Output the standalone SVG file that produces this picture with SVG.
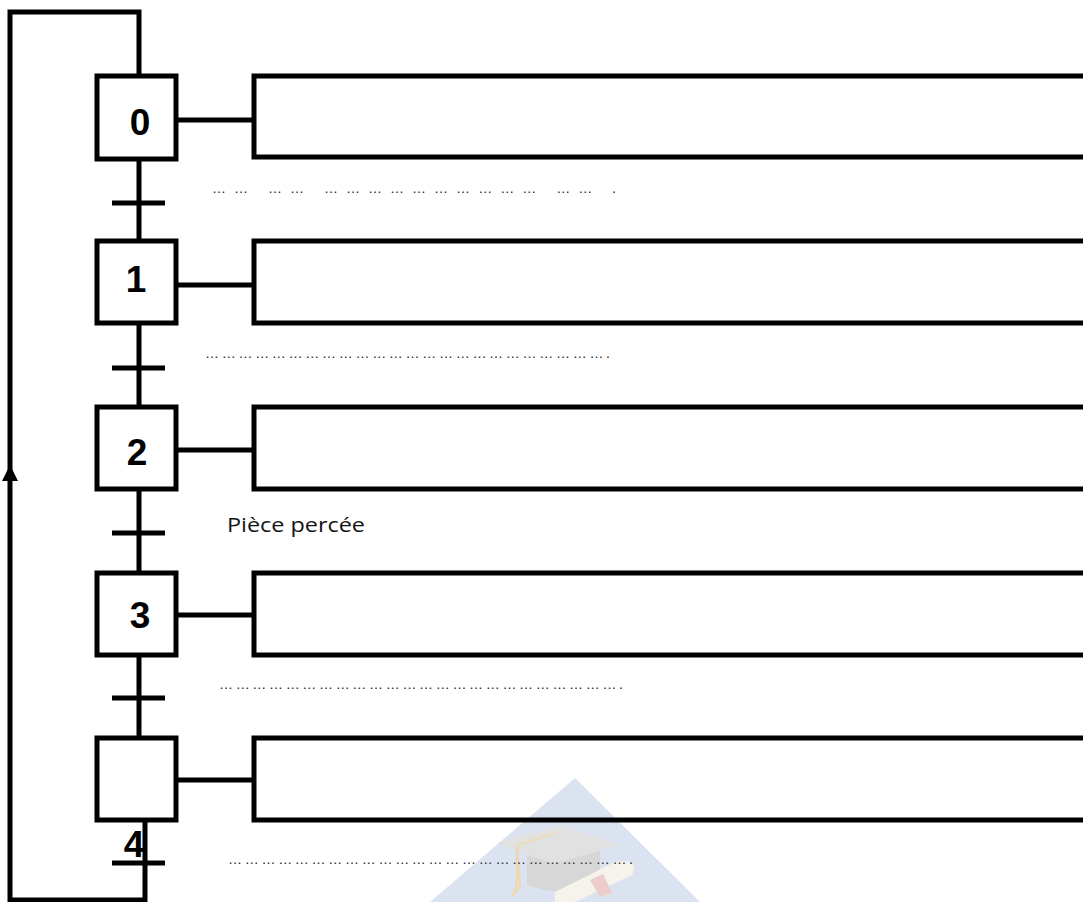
<svg xmlns="http://www.w3.org/2000/svg" width="1083" height="902" viewBox="0 0 1083 902">
<style>
.ln{stroke:#000;stroke-width:5;fill:none}
.box{stroke:#000;stroke-width:5;fill:#fff}
.act{stroke:#000;stroke-width:5;fill:none}
.num{font-family:"Liberation Sans",Arial,sans-serif;font-weight:bold;font-size:37px;fill:#000;text-anchor:middle}
.dots{font-family:"Liberation Sans",Arial,sans-serif;font-size:14px;fill:#222}
.lbl{font-family:"Open Sans","Liberation Sans",sans-serif;font-size:20px;fill:#111}
</style>
<rect width="1083" height="902" fill="#fff"/>
<g id="watermark" opacity="0.5">
<polygon points="575,778 430,902 700,902" fill="#b9c9e4"/>
<path d="M527,850 L600,850 L600,885 Q563,898 527,885 Z" fill="#b0b0b0"/>
<polygon points="497,843 560,825 620,845 553,864" fill="#c4c4c4"/>
<path d="M517,845 L556,833" stroke="#e0b860" stroke-width="1.5" fill="none"/>
<path d="M517,845 L517,885 L512,897 L520,886 Z" stroke="#ddb060" stroke-width="2" fill="#eccf90"/>
<path d="M555,892 L615,862 Q640,858 632,875 L575,902 L555,902 Z" fill="#efe6da"/>
<path d="M590,880 L603,874 L612,893 L600,897 Z" fill="#dc9a9a"/>
</g>
<g id="connectors">
<path class="ln" d="M139,76 L139,12 L10,12 L10,900 L145,900 L145,822"/>
<polygon points="10,465 2,481 18,481" fill="#000"/>
<path class="ln" d="M139,159 L139,241 M139,324 L139,407 M139,490 L139,573 M139,655 L139,738"/>
<path class="ln" d="M112,203 L165,203 M112,368 L165,368 M112,533 L165,533 M112,698 L165,698 M112,863 L165,863"/>
<path class="ln" d="M176,120 L254,120 M176,285 L254,285 M176,450 L254,450 M176,615 L254,615 M176,780 L254,780"/>
</g>
<g id="step0"><rect class="box" x="97" y="76" width="79" height="83"/><text class="num" x="140" y="135">0</text></g>
<g id="step1"><rect class="box" x="97" y="241" width="79" height="82"/><text class="num" x="136" y="292">1</text></g>
<g id="step2"><rect class="box" x="97" y="407" width="79" height="82"/><text class="num" x="137" y="465">2</text></g>
<g id="step3"><rect class="box" x="97" y="573" width="79" height="82"/><text class="num" x="140" y="628">3</text></g>
<g id="step4"><rect class="box" x="97" y="738" width="79" height="82"/><text class="num" x="134" y="857">4</text></g>
<g id="action0"><rect class="act" x="254" y="76" width="840" height="81"/></g>
<g id="action1"><rect class="act" x="254" y="241" width="840" height="82"/></g>
<g id="action2"><rect class="act" x="254" y="407" width="840" height="82"/></g>
<g id="action3"><rect class="act" x="254" y="573" width="840" height="82"/></g>
<g id="action4"><rect class="act" x="254" y="738" width="840" height="82"/></g>
<g id="labels" opacity="0.99">
<text class="dots" x="212" y="193" textLength="404" lengthAdjust="spacing">…… …… ………………………… …… .</text>
<text class="dots" x="205" y="358" textLength="405" lengthAdjust="spacing">… … … … … … … … … … … … … … … … … … … … … … … … .</text>
<text class="lbl" x="227" y="532" textLength="138" lengthAdjust="spacingAndGlyphs">Pièce percée</text>
<text class="dots" x="219" y="689" textLength="404" lengthAdjust="spacing">… … … … … … … … … … … … … … … … … … … … … … … … .</text>
<text class="dots" x="228" y="864" textLength="405" lengthAdjust="spacing">… … … … … … … … … … … … … … … … … … … … … … … … .</text>
</g>
</svg>
